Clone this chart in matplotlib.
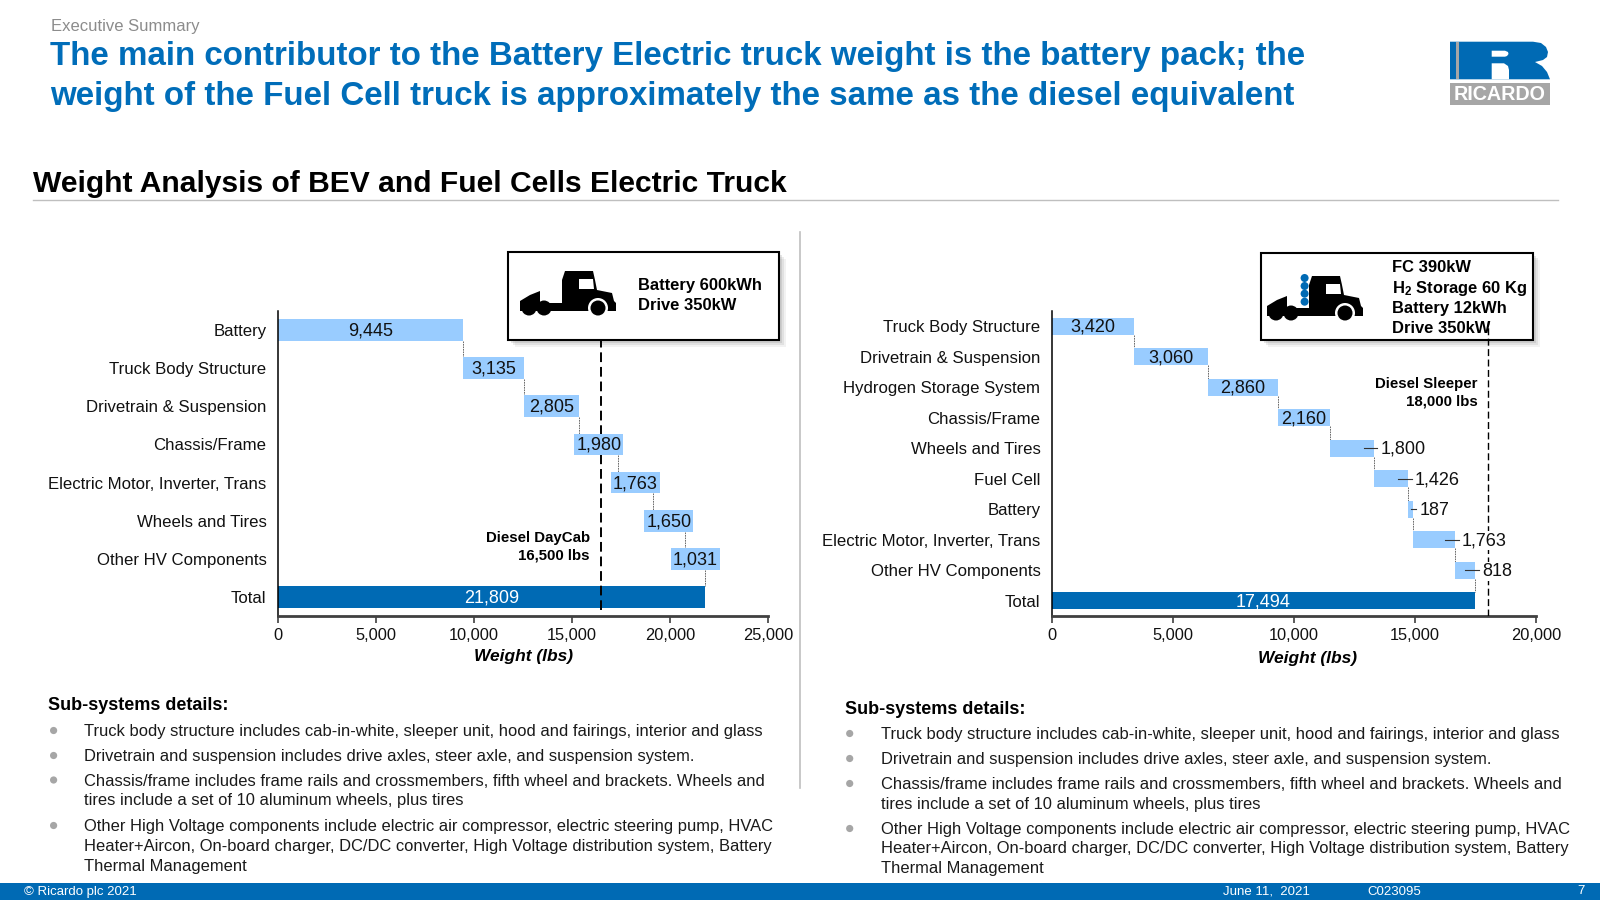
import matplotlib
matplotlib.use("Agg")
import matplotlib.pyplot as plt
from matplotlib.patches import Rectangle, Polygon, Circle
from matplotlib.ticker import FuncFormatter

plt.rcParams['font.family'] = ['Liberation Sans', 'DejaVu Sans']
plt.rcParams['mathtext.fontset'] = 'custom'
plt.rcParams['mathtext.bf'] = 'Liberation Sans:bold'
plt.rcParams['mathtext.rm'] = 'Liberation Sans'

# ---------------- data ----------------
bev_labels = ["Battery", "Truck Body Structure", "Drivetrain & Suspension", "Chassis/Frame",
              "Electric Motor, Inverter, Trans", "Wheels and Tires", "Other HV Components"]
bev_values = [9445, 3135, 2805, 1980, 1763, 1650, 1031]
bev_total = 21809
bev_diesel = 16500

fc_labels = ["Truck Body Structure", "Drivetrain & Suspension", "Hydrogen Storage System",
             "Chassis/Frame", "Wheels and Tires", "Fuel Cell", "Battery",
             "Electric Motor, Inverter, Trans", "Other HV Components"]
fc_values = [3420, 3060, 2860, 2160, 1800, 1426, 187, 1763, 818]
fc_total = 17494
fc_diesel = 18000

title_lines = ["The main contributor to the Battery Electric truck weight is the battery pack; the",
               "weight of the Fuel Cell truck is approximately the same as the diesel equivalent"]
bullets = [["Truck body structure includes cab-in-white, sleeper unit, hood and fairings, interior and glass"],
           ["Drivetrain and suspension includes drive axles, steer axle, and suspension system."],
           ["Chassis/frame includes frame rails and crossmembers, fifth wheel and brackets. Wheels and",
            "tires include a set of 10 aluminum wheels, plus tires"],
           ["Other High Voltage components include electric air compressor, electric steering pump, HVAC",
            "Heater+Aircon, On-board charger, DC/DC converter, High Voltage distribution system, Battery",
            "Thermal Management"]]

BLUE = "#006AB4"
LIGHT = "#99CCFF"
GREY = "#A6A6A6"
W, H = 1600, 900

fig = plt.figure(figsize=(16, 9), dpi=100, facecolor="white")

# page layer in pixel coordinates, sits under the charts
page = fig.add_axes([0, 0, 1, 1], zorder=0)
page.set_xlim(0, W)
page.set_ylim(H, 0)
page.axis("off")


def txt(x, y, s, size, **kw):
    kw.setdefault("va", "center")
    return page.text(x, y, s, fontsize=size, **kw)


def truck(x, y):
    page.add_patch(Polygon([(x, y + 31), (x + 10, y + 25), (x + 20, y + 21), (x + 20, y + 33),
                            (x + 42, y + 33), (x + 42, y + 10), (x + 45, y + 1), (x + 73, y + 1),
                            (x + 75, y + 10), (x + 77, y + 20), (x + 92, y + 23), (x + 94, y + 31),
                            (x + 96, y + 33), (x + 96, y + 41), (x, y + 41)],
                           fc="black", ec="none", zorder=3))
    page.add_patch(Polygon([(x + 59, y + 9), (x + 73, y + 9), (x + 74, y + 19), (x + 59, y + 19)],
                           fc="white", ec="none", zorder=4))
    page.add_patch(Circle((x + 78, y + 38), 10, fc="white", ec="none", zorder=4))
    for wx in (9, 24, 78):
        page.add_patch(Circle((x + wx, y + 38), 7.5, fc="black", ec="none", zorder=5))


def info_box(x0, y0, x1, y1):
    for k, a in ((7, 0.10), (5, 0.15), (3, 0.2)):
        page.add_patch(Rectangle((x0 + k, y0 + k), x1 - x0, y1 - y0, fc="#808080", ec="none",
                                 alpha=a, zorder=1))
    page.add_patch(Rectangle((x0, y0), x1 - x0, y1 - y0, fc="white", ec="black", lw=1.5, zorder=2))


# header
txt(51, 26.5, "Executive Summary", 12, color="#8C8C8C")
txt(50.5, 56, title_lines[0], 23.9, color="#006DB9", fontweight="bold")
txt(50.5, 96.5, title_lines[1], 23.9, color="#006DB9", fontweight="bold")
txt(33, 184, "Weight Analysis of BEV and Fuel Cells Electric Truck", 21.6, fontweight="bold", color="black")
page.plot([33, 1558], [200, 200], color="#BFBFBF", lw=1)
page.plot([800, 800], [232, 788], color="#BFBFBF", lw=1.2)

# logo
page.add_patch(Polygon([(1450, 41.7), (1533, 41.7), (1541, 43), (1546, 47), (1548, 52), (1547, 57),
                        (1543, 60), (1535, 62), (1542, 66), (1547, 72), (1550, 79.3), (1450, 79.3)],
                       fc=BLUE, ec="none"))
page.add_patch(Rectangle((1456, 41.7), 2.6, 37.6, fc=GREY, ec="none"))
page.add_patch(Polygon([(1491.7, 50.7), (1505, 50.7), (1508, 52), (1508.5, 54), (1507, 56), (1505, 56.7),
                        (1491.7, 56.7)], fc="white", ec="none"))
page.add_patch(Polygon([(1491.7, 63.3), (1504, 63.3), (1508, 66), (1509, 70), (1509, 79.3), (1491.7, 79.3)],
                       fc="white", ec="none"))
page.add_patch(Rectangle((1450, 83.3), 100, 21.7, fc=GREY, ec="none"))
txt(1500, 95, "RICARDO", 14.2, color="white", fontweight="bold", ha="center")

# info boxes
info_box(507.6, 252.3, 779, 340)
truck(520, 270)
txt(638, 285.5, "Battery 600kWh", 11.9, fontweight="bold", zorder=6)
txt(638, 305, "Drive 350kW", 11.9, fontweight="bold", zorder=6)

info_box(1261, 252.7, 1532.6, 340.3)
truck(1267, 275)
for cy in (278, 286, 293.7, 301.7):
    page.add_patch(Circle((1304.6, cy), 4, fc=BLUE, ec="none", zorder=6))
txt(1391.8, 268, "FC 390kW", 11.9, fontweight="bold", zorder=6)
txt(1391.8, 288.7, r"H$\mathbf{_2}$ Storage 60 Kg", 11.9, fontweight="bold", zorder=6)
txt(1391.8, 308.7, "Battery 12kWh", 11.9, fontweight="bold", zorder=6)
txt(1391.8, 328.3, "Drive 350kW", 11.9, fontweight="bold", zorder=6)

# sub-system notes, same text in both columns
left_ys = [[731.5], [756.5], [781, 801], [826.5, 846.5, 866]]
right_ys = [[734.5], [759.5], [784.5, 804], [829.5, 849, 869]]
for hx, hy, bx, tx, ys in ((48, 705.5, 53.6, 84, left_ys), (844.6, 709.5, 849.7, 881, right_ys)):
    txt(hx, hy, "Sub-systems details:", 13, fontweight="bold")
    for lines, line_ys in zip(bullets, ys):
        page.add_patch(Circle((bx, line_ys[0] - 1), 3.6, fc=GREY, ec="none"))
        for s, ly in zip(lines, line_ys):
            txt(tx, ly, s, 11.9, color="#1A1A1A")

# footer
page.add_patch(Rectangle((0, 883), W, 17, fc=BLUE, ec="none"))
txt(24.5, 891.5, "\u00a9 Ricardo plc 2021", 9.5, color="white")
txt(1223, 891.5, "June 11,  2021", 9.5, color="white")
txt(1367, 892, "C023095", 9.5, color="white")
txt(1577, 891.5, "7", 9.5, color="white")


def value_label(ax, x, y, s, **kw):
    # nudged a little below the bar centre, like the source
    ax.annotate(s, (x, y), xytext=(0, -0.7), textcoords="offset points", va="center",
                fontsize=13, zorder=6, **kw)


def waterfall(rect, labels, values, total, diesel, xmax, outside=(), line_top=341, line_bot=610, line_w=1.4):
    ax = fig.add_axes([rect[0] / W, 1 - rect[3] / H, (rect[2] - rect[0]) / W, (rect[3] - rect[1]) / H], zorder=2)
    ax.patch.set_alpha(0)
    n = len(values) + 1
    bar_h = 0.57
    px_per = (rect[2] - rect[0]) / xmax
    box_w = 49 / px_per   # label background is wider than the small bars

    start = 0
    for i, (lab, v) in enumerate(zip(labels, values)):
        end = start + v
        ax.barh(i, v, left=start, height=bar_h, color=LIGHT, zorder=2)
        ax.plot([end, end], [i + bar_h / 2, i + 1 - bar_h / 2], color="#555555", lw=0.6, ls=(0, (2, 1)), zorder=1)
        mid = start + v / 2
        if i in outside:
            ax.plot([max(end - 10 / px_per, mid), end + 3.5 / px_per], [i, i], color="#333333", lw=0.8, zorder=5)
            value_label(ax, end + 6.5 / px_per, i, f"{v:,}", ha="left", color="#111111",
                        bbox=dict(fc="white", ec="none", pad=0.6))
        else:
            if v < box_w:
                ax.barh(i, box_w, left=mid - box_w / 2, height=bar_h, color=LIGHT, zorder=4)
            value_label(ax, mid, i, f"{v:,}", ha="center", color="#111111")
        start = end

    ax.barh(n - 1, total, height=bar_h, color=BLUE, zorder=2)
    value_label(ax, total / 2, n - 1, f"{total:,}", ha="center", color="white")

    ax.set_xlim(0, xmax)
    ax.set_ylim(n - 0.5, -0.5)
    ax.set_yticks(range(n))
    ax.set_yticklabels(list(labels) + ["Total"], fontsize=12.1, color="#111111")
    ax.tick_params(axis="y", length=0, pad=8)
    ax.set_xticks(range(0, xmax + 1, 5000))
    ax.xaxis.set_major_formatter(FuncFormatter(lambda v, p: f"{int(v):,}"))
    ax.tick_params(axis="x", length=5, width=1.2, color="#404040", labelsize=11.8, pad=4, labelcolor="#111111")
    for s in ("top", "right"):
        ax.spines[s].set_visible(False)
    ax.spines["left"].set_linewidth(1.1)
    ax.spines["left"].set_color("black")
    ax.spines["bottom"].set_linewidth(2)
    ax.spines["bottom"].set_color("#404040")

    fy = lambda p: (rect[3] - p) / (rect[3] - rect[1])
    ax.axvline(diesel, ymin=fy(line_bot), ymax=fy(line_top), color="black", lw=line_w, ls=(0, (5, 2.5)), zorder=3)
    return ax


bev_ax = waterfall((277.5, 311, 768, 616), bev_labels, bev_values, bev_total, bev_diesel, 25000)
fc_ax = waterfall((1051.5, 311, 1536, 616), fc_labels, fc_values, fc_total, fc_diesel, 20000,
                  outside=(4, 5, 6, 7, 8), line_top=322, line_bot=616, line_w=1.0)

txt(523, 657, "Weight (lbs)", 12.5, fontweight="bold", style="italic", ha="center")
txt(1307.6, 659, "Weight (lbs)", 12.5, fontweight="bold", style="italic", ha="center")
txt(590, 537.7, "Diesel DayCab", 10.8, fontweight="bold", ha="right")
txt(590, 556, f"{bev_diesel:,} lbs", 10.8, fontweight="bold", ha="right")
txt(1477.6, 384, "Diesel Sleeper", 10.8, fontweight="bold", ha="right")
txt(1477.6, 402, f"{fc_diesel:,} lbs", 10.8, fontweight="bold", ha="right")

fig.savefig("out.png", dpi=100)
